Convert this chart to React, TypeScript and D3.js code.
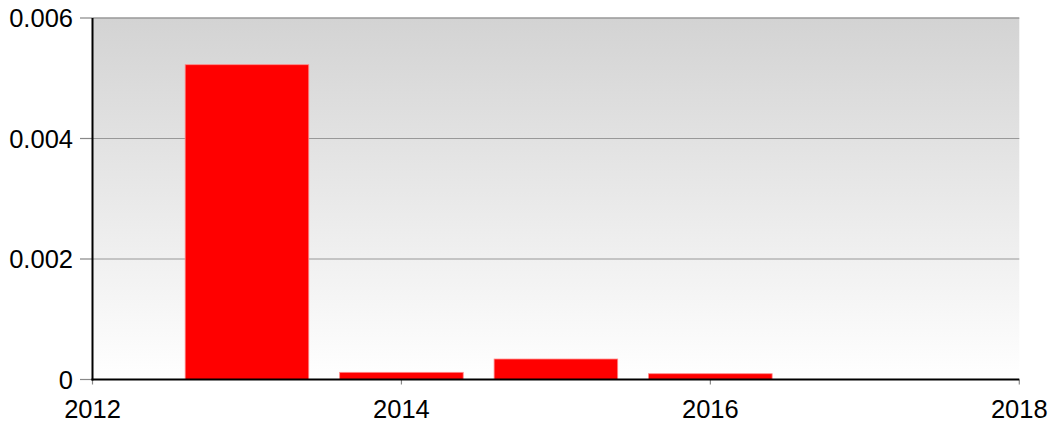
import React from "react";
import * as d3 from "d3";

const years = [2013, 2014, 2015, 2016];
const values = [0.005225, 0.000119, 0.00034, 0.000096];
const yTicks = [0, 0.002, 0.004, 0.006];
const xTicks = [2012, 2014, 2016, 2018];

const W = 1051;
const H = 430;
const M = { left: 92.5, right: 1019.3, top: 18, bottom: 379.5 };

export default function App() {
  const x = d3.scaleLinear().domain([2012, 2018]).range([M.left, M.right]);
  const y = d3.scaleLinear().domain([0, 0.006]).range([M.bottom, M.top]);
  const barW = x(2012.8) - x(2012);
  const font = "'Liberation Sans', Arial, sans-serif";
  return (
    <svg
      width={W}
      height={H}
      style={{ position: "absolute", left: 0, top: 0, background: "#fff" }}
    >
      <defs>
        <linearGradient id="bg" x1="0" y1="0" x2="0" y2="1">
          <stop offset="0" stopColor="#d3d3d3" />
          <stop offset="1" stopColor="#ffffff" />
        </linearGradient>
      </defs>
      <rect
        x={M.left}
        y={M.top}
        width={M.right - M.left}
        height={M.bottom - M.top}
        fill="url(#bg)"
      />
      {yTicks.map((t) => (
        <g key={t}>
          {t > 0 && (
            <line
              x1={M.left}
              x2={M.right}
              y1={y(t)}
              y2={y(t)}
              stroke="#989898"
              strokeWidth={t === 0.006 ? 1.6 : 1.2}
            />
          )}
          <line x1={80} x2={M.left} y1={y(t)} y2={y(t)} stroke="#888" strokeWidth={1.2} />
          <text
            x={73}
            y={y(t)}
            textAnchor="end"
            dominantBaseline="central"
            fontFamily={font}
            fontSize={25.5}
            fill="#000"
          >
            {t === 0 ? "0" : d3.format(".3f")(t)}
          </text>
        </g>
      ))}
      {years.map((yr, i) => (
        <rect
          key={yr}
          x={x(yr) - barW / 2}
          y={y(values[i])}
          width={barW}
          height={y(0) - y(values[i])}
          fill="#ff0000"
          stroke="#ff8a8a"
          strokeWidth={0.8}
        />
      ))}
      {xTicks.map((t) => (
        <g key={t}>
          <line x1={x(t)} x2={x(t)} y1={M.bottom} y2={M.bottom + 5} stroke="#888" strokeWidth={1.2} />
          <text
            x={x(t)}
            y={418}
            textAnchor="middle"
            fontFamily={font}
            fontSize={25.5}
            fill="#000"
          >
            {t}
          </text>
        </g>
      ))}
      <line x1={M.left} x2={M.left} y1={M.top} y2={M.bottom + 1} stroke="#000" strokeWidth={2} />
      <line x1={M.left - 1} x2={M.right} y1={M.bottom} y2={M.bottom} stroke="#000" strokeWidth={2} />
    </svg>
  );
}
